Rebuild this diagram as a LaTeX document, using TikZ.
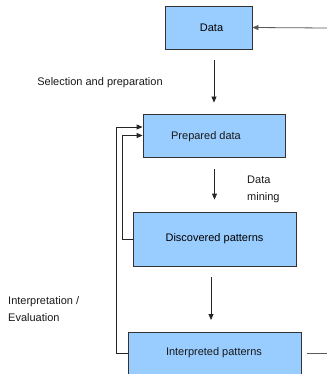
\documentclass[tikz,border=0pt]{standalone}
\usepackage{fontspec}
\setmainfont{Liberation Sans}
\usetikzlibrary{arrows.meta}
\begin{document}
\begin{tikzpicture}[x=1pt,y=-1pt,
  box/.style={draw=black!80, line width=0.8pt, fill={rgb,255:red,153;green,204;blue,255}, inner sep=0pt, font=\fontsize{11}{13}\selectfont},
  lbl/.style={font=\fontsize{11}{16.5}\selectfont, inner sep=0pt, text=black!90},
  conn/.style={draw=black!85, line width=0.8pt},
  arr/.style={conn, -{Triangle[length=6pt,width=5pt]}}]
\useasboundingbox (0,0) rectangle (326,374);
\node[box, minimum width=87, minimum height=43] (data) at (208.5,27.5) {\hspace*{6pt}Data};
\node[box, minimum width=142, minimum height=43] (prep) at (214,135.5) {};
\node[lbl] (preptext) at (206,137) {Prepared data};
\node[box, minimum width=163, minimum height=54] (disc) at (214.5,239) {Discovered patterns};
\node[box, minimum width=173, minimum height=43.5, anchor=north] (interp) at (214.5,332) {};
\node[lbl] (interptext) at (214,353) {Interpreted patterns};
\coordinate (inR) at (327,28);
\coordinate (outR) at (327,353);
\node[lbl, anchor=center] (sel) at (100,83) {Selection and preparation};
\node[lbl, align=left, anchor=west] (dm) at (247,189.5) {Data\\mining};
\node[lbl, align=left, anchor=west] (ie) at (8,309) {Interpretation /\\Evaluation};
\draw[arr, draw=black!65] (inR) -- (data.east);
\draw[arr, shorten <=11pt, shorten >=11pt] (prep.north |- data.south) -- (prep.north);
\draw[arr, shorten <=12pt, shorten >=12pt] (disc.north |- prep.south) -- (disc.north);
\draw[arr, shorten <=11pt, shorten >=12pt] ([xshift=-3.5pt]interp.north |- disc.south) -- ([xshift=-3.5pt]interp.north);
\draw[arr] (disc.west) -- ++(-10,0) |- (prep.west);
\draw[arr] (interptext.west -| interp.west) -- ++(-11,0) |- ([yshift=8.5pt]prep.west);
\draw[conn, draw=black!65] ([xshift=6pt]interptext.east -| interp.east) -- (outR);
\end{tikzpicture}
\end{document}
